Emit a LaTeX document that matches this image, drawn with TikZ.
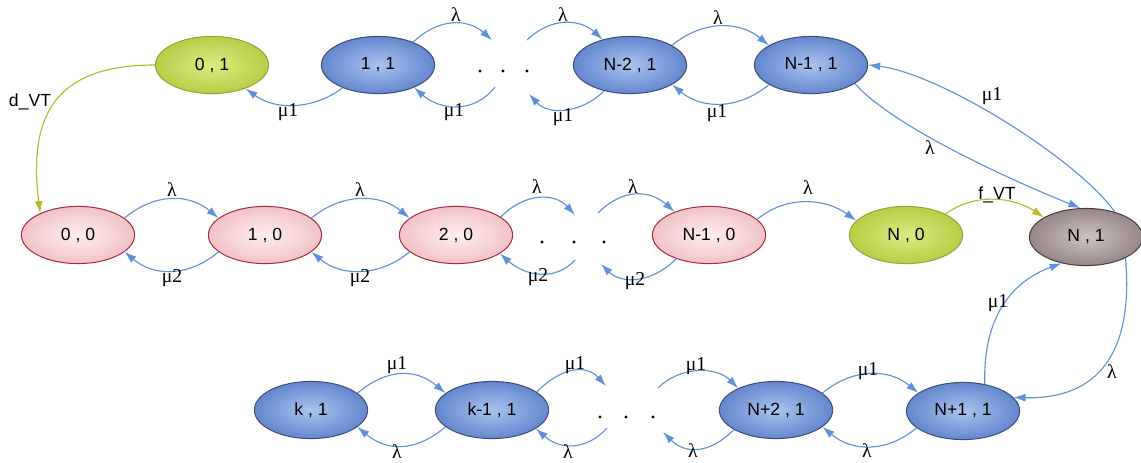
\documentclass[tikz,border=0pt]{standalone}
\usepackage{fontspec}
\setmainfont{Liberation Serif}
\newfontfamily\nodefont{Liberation Sans}
\usetikzlibrary{arrows.meta,shapes.geometric}
\definecolor{eblue}{RGB}{95,145,215}
\definecolor{eyel}{RGB}{185,185,40}
\definecolor{bluebd}{RGB}{60,75,120}
\definecolor{bluein}{RGB}{170,195,240}
\definecolor{blueout}{RGB}{100,135,205}
\definecolor{pinkbd}{RGB}{165,40,60}
\definecolor{pinkin}{RGB}{255,238,238}
\definecolor{pinkout}{RGB}{240,195,200}
\definecolor{greenbd}{RGB}{150,160,60}
\definecolor{greenin}{RGB}{220,235,130}
\definecolor{greenout}{RGB}{185,205,70}
\definecolor{graybd}{RGB}{70,60,60}
\definecolor{grayin}{RGB}{205,195,195}
\definecolor{grayout}{RGB}{150,135,135}
\begin{document}
\begin{tikzpicture}[x=0.025cm,y=-0.025cm,
  st/.style={ellipse, minimum width=2.83cm, minimum height=1.43cm, inner sep=0pt,
    font=\nodefont\fontsize{12.5}{14}\selectfont, line width=0.7pt},
  bluest/.style={st, draw=bluebd, inner color=bluein, outer color=blueout},
  pinkst/.style={st, draw=pinkbd, inner color=pinkin, outer color=pinkout},
  greenst/.style={st, draw=greenbd, inner color=greenin, outer color=greenout},
  grayst/.style={st, draw=graybd, inner color=grayin, outer color=grayout},
  arr/.style={draw=eblue, line width=0.8pt, -{Latex[length=0.3cm,width=0.2cm]}},
  yarr/.style={arr, draw=eyel},
  lbl/.style={font=\fontsize{14}{16}\selectfont, inner sep=0pt},
  slbl/.style={font=\nodefont\fontsize{12.5}{14}\selectfont, inner sep=0pt},
  dot/.style={fill=black}
]
\useasboundingbox (0,0) rectangle (1141,462);
% nodes
\node[greenst] (n01) at (212,65) {0 , 1};
\node[bluest] (n11) at (378,65) {1 , 1};
\node[bluest] (nN21) at (630,65) {N-2 , 1};
\node[bluest] (nN11) at (811,65) {N-1 , 1};
\node[pinkst] (n00) at (78,235) {0 , 0};
\node[pinkst] (n10) at (265,235) {1 , 0};
\node[pinkst] (n20) at (456,235) {2 , 0};
\node[pinkst] (nN10) at (709,235) {N-1 , 0};
\node[greenst] (nN0) at (906,235) {N , 0};
\node[grayst] (nN1) at (1086,237) {N , 1};
\node[bluest] (nk1) at (311,410) {k , 1};
\node[bluest] (nk11) at (492,410) {k-1 , 1};
\node[bluest] (nNp21) at (776,410) {N+2 , 1};
\node[bluest] (nNp11) at (963,411) {N+1 , 1};
% dots
\foreach \x in {480,503,527} \fill[dot] (\x,71) circle (1.7);
\foreach \x in {542,574,604} \fill[dot] (\x,242) circle (1.7);
\foreach \x in {600,626,653} \fill[dot] (\x,417) circle (1.7);
% free ends near the dots
\coordinate (tA) at (492,40);
\coordinate (tB) at (527,40);
\coordinate (tC) at (495,87);
\coordinate (tD) at (529,94);
\coordinate (mA) at (575,215);
\coordinate (mB) at (598,213);
\coordinate (mC) at (575,260);
\coordinate (mD) at (601,264);
\coordinate (bA) at (606,386);
\coordinate (bB) at (658,388);
\coordinate (bC) at (607,428);
\coordinate (bD) at (663,432);
% top row
\draw[arr] (n11.33) .. controls +(25,-24) and +(-25,-22) .. (tA);
\draw[arr] (tB) .. controls +(25,-24) and +(-22,-20) .. (nN21.137);
\draw[arr] (nN21.25) .. controls +(30,-25) and +(-30,-25) .. (nN11.155);
\draw[arr] (nN11.205) .. controls +(-30,25) and +(30,25) .. (nN21.335);
\draw[arr] (nN21.225) .. controls +(-22,22) and +(20,22) .. (tD);
\draw[arr] (tC) .. controls +(-22,28) and +(25,22) .. (n11.328);
\draw[arr] (n11.213) .. controls +(-30,22) and +(30,22) .. (n01.325);
% middle row
\draw[arr] (n00.20) .. controls +(30,-25) and +(-30,-25) .. (n10.160);
\draw[arr] (n10.20) .. controls +(30,-25) and +(-30,-25) .. (n20.160);
\draw[arr] (n20.22) .. controls +(25,-25) and +(-20,-22) .. (mA);
\draw[arr] (mB) .. controls +(25,-25) and +(-25,-22) .. (nN10.146);
\draw[arr] (nN10.18) .. controls +(30,-25) and +(-30,-22) .. (nN0.164);
\draw[yarr] (nN0.28) .. controls +(30,-22) and +(-30,-20) .. (nN1.155);
\draw[arr] (n10.200) .. controls +(-30,25) and +(30,25) .. (n00.340);
\draw[arr] (n20.200) .. controls +(-30,25) and +(30,25) .. (n10.340);
\draw[arr] (mC) .. controls +(-20,22) and +(25,22) .. (n20.337);
\draw[arr] (nN10.216) .. controls +(-25,25) and +(20,20) .. (mD);
% right side
\draw[arr] (nN11.337) .. controls +(40,45) and +(-60,-24) .. (nN1.101);
\draw[arr] (nN1.41) .. controls +(-40,-55) and +(70,8) .. (nN11.east);
\draw[arr] (nNp11.51) .. controls +(-2,-64) and +(-52,19) .. (nN1.227);
\draw[arr] (nN1.332) .. controls +(8,92) and +(87,2) .. (nNp11.15);
\draw[yarr] (n01.west) .. controls +(-95,0) and +(-13,-103) .. (n00.150);
% bottom row
\draw[arr] (nk1.20) .. controls +(30,-25) and +(-30,-25) .. (nk11.160);
\draw[arr] (nk11.22) .. controls +(25,-25) and +(-20,-22) .. (bA);
\draw[arr] (bB) .. controls +(22,-22) and +(-22,-22) .. (nNp21.150);
\draw[arr] (nNp21.20) .. controls +(30,-25) and +(-30,-25) .. (nNp11.158);
\draw[arr] (nk11.200) .. controls +(-30,25) and +(30,25) .. (nk1.340);
\draw[arr] (bC) .. controls +(-20,22) and +(25,22) .. (nk11.337);
\draw[arr] (nNp21.205) .. controls +(-25,25) and +(22,22) .. (bD);
\draw[arr] (nNp11.200) .. controls +(-30,25) and +(30,25) .. (nNp21.340);
% labels top
\node[lbl] (lt1) at (456,15) {λ};
\node[lbl] (lt2) at (563,15) {λ};
\node[lbl] (lt3) at (718,18) {λ};
\node[lbl] (lt4) at (288,112) {μ1};
\node[lbl] (lt5) at (454,112) {μ1};
\node[lbl] (lt6) at (563,117) {μ1};
\node[lbl] (lt7) at (717,113) {μ1};
% labels middle
\node[lbl] (lm1) at (172,190) {λ};
\node[lbl] (lm2) at (360,190) {λ};
\node[lbl] (lm3) at (537,187) {λ};
\node[lbl] (lm4) at (633,187) {λ};
\node[lbl] (lm5) at (808,188) {λ};
\node[lbl] (lm6) at (172,278) {μ2};
\node[lbl] (lm7) at (360,278) {μ2};
\node[lbl] (lm8) at (538,277) {μ2};
\node[lbl] (lm9) at (635,281) {μ2};
\node[slbl] (lf) at (997,195) {f\_VT};
\node[slbl] (ld) at (30,102) {d\_VT};
% labels right
\node[lbl] (lr1) at (992,96) {μ1};
\node[lbl] (lr2) at (930,148) {λ};
\node[lbl] (lr3) at (998,303) {μ1};
\node[lbl] (lr4) at (1112,372) {λ};
% labels bottom
\node[lbl] (lb1) at (397,365) {μ1};
\node[lbl] (lb2) at (575,365) {μ1};
\node[lbl] (lb3) at (696,366) {μ1};
\node[lbl] (lb4) at (868,371) {μ1};
\node[lbl] (lb5) at (397,452) {λ};
\node[lbl] (lb6) at (568,452) {λ};
\node[lbl] (lb7) at (693,451) {λ};
\node[lbl] (lb8) at (867,451) {λ};
\end{tikzpicture}
\end{document}
